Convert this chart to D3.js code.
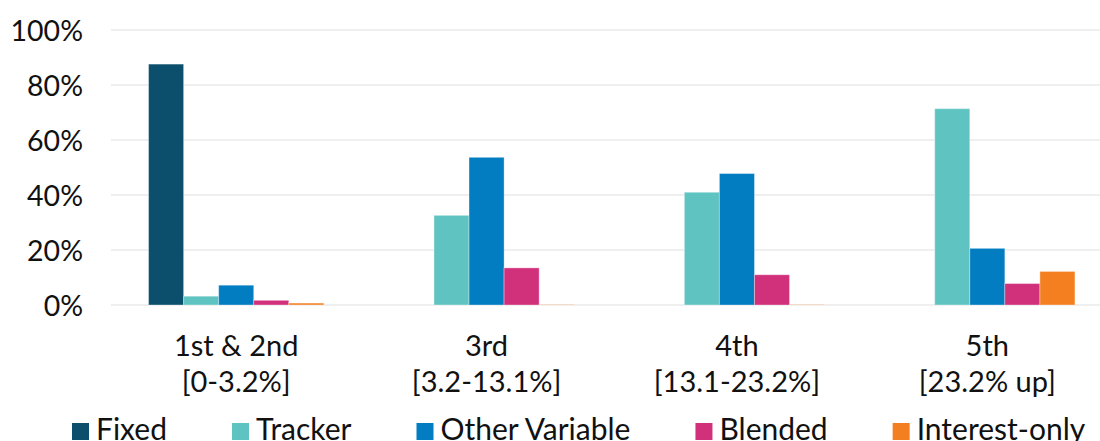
<!DOCTYPE html>
<html>
<head>
<meta charset="utf-8">
<script src="https://cdn.jsdelivr.net/npm/d3@7"></script>
<style>
  html, body { margin: 0; padding: 0; background: #fff; }
  svg { display: block; font-family: Lato, "Noto Sans", sans-serif; }
</style>
</head>
<body>
<svg id="chart" width="1100" height="441"></svg>
<script>
// Mortgage type shares by band
const categories = [["1st & 2nd", "[0-3.2%]"], ["3rd", "[3.2-13.1%]"], ["4th", "[13.1-23.2%]"], ["5th", "[23.2% up]"]];
const seriesNames = ["Fixed", "Tracker", "Other Variable", "Blended", "Interest-only"];
const seriesColors = ["#0b4f6c", "#5fc4c1", "#027dc2", "#d1307b", "#f47f20"];
const fixed = [87.6, 0, 0, 0];
const tracker = [3.2, 32.6, 41.0, 71.4];
const otherVariable = [7.2, 53.7, 47.8, 20.6];
const blended = [1.7, 13.5, 11.0, 7.8];
const interestOnly = [0.7, 0.1, 0.1, 12.2];
const yTicks = [0, 20, 40, 60, 80, 100];

const seriesValues = [fixed, tracker, otherVariable, blended, interestOnly];

const svg = d3.select("#chart");
const plot = { left: 111, right: 1112.5, top: 30, bottom: 305 };

const x0 = d3.scaleBand()
  .domain(d3.range(categories.length))
  .range([plot.left, plot.right])
  .paddingInner(0.3)
  .paddingOuter(0.15);

const x1 = d3.scaleBand()
  .domain(d3.range(seriesNames.length))
  .range([0, x0.bandwidth()]);

const y = d3.scaleLinear().domain([0, 100]).range([plot.bottom, plot.top]);

// Horizontal gridlines
svg.append("g")
  .selectAll("line")
  .data(yTicks)
  .join("line")
  .attr("x1", plot.left)
  .attr("x2", 1100)
  .attr("y1", d => y(d))
  .attr("y2", d => y(d))
  .attr("stroke", "#efefef")
  .attr("stroke-width", 2);

// Y axis labels
const yAxis = d3.axisLeft(y).tickValues(yTicks).tickFormat(d => d + "%").tickSize(0).tickPadding(0);
const yG = svg.append("g").attr("transform", `translate(83,0)`).call(yAxis);
yG.select(".domain").remove();
yG.selectAll("text")
  .attr("font-family", "Lato, sans-serif")
  .attr("font-size", 28.5)
  .attr("fill", "#111")
  .attr("dy", "0.36em");

// Bars
const groups = svg.append("g")
  .selectAll("g")
  .data(categories.map((c, i) => i))
  .join("g")
  .attr("transform", i => `translate(${x0(i)},0)`);

groups.selectAll("rect")
  .data(i => seriesValues.map((vals, s) => ({ s, v: vals[i] })))
  .join("rect")
  .filter(d => d.v > 0)
  .attr("x", d => x1(d.s))
  .attr("width", x1.bandwidth())
  .attr("y", d => y(d.v))
  .attr("height", d => y(0) - y(d.v))
  .attr("fill", d => seriesColors[d.s])
  .attr("stroke", "rgba(255,255,255,0.35)")
  .attr("stroke-width", 1);

// Category labels
const catG = svg.append("g");
categories.forEach((lines, i) => {
  const cx = x0(i) + x0.bandwidth() / 2;
  const t = catG.append("text")
    .attr("text-anchor", "middle")
    .attr("font-size", 29)
    .attr("fill", "#111")
    .attr("x", cx)
    .attr("y", 356);
  lines.forEach((ln, k) => {
    t.append("tspan")
      .attr("x", cx)
      .attr("dy", k === 0 ? 0 : 36)
      .text(ln);
  });
});

// Legend
const legend = svg.append("g");
let lx = 72;
seriesNames.forEach((name, s) => {
  legend.append("rect")
    .attr("x", lx)
    .attr("y", 423)
    .attr("width", 17)
    .attr("height", 17)
    .attr("fill", seriesColors[s]);
  const t = legend.append("text")
    .attr("x", lx + 24)
    .attr("y", 440)
    .attr("font-size", 30)
    .attr("fill", "#111")
    .text(name);
  lx += 24 + t.node().getComputedTextLength() + 65;
});
</script>
</body>
</html>
